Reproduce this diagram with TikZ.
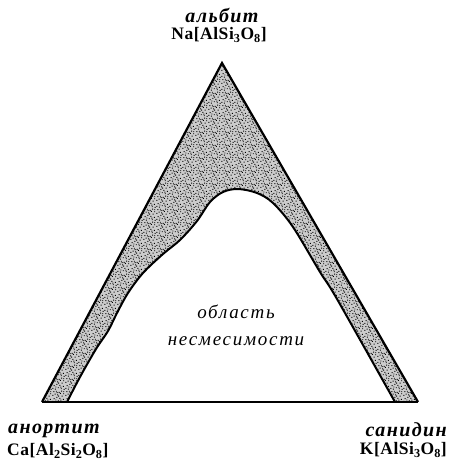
\documentclass[tikz,border=0pt]{standalone}
\usepackage{fontspec}
\setmainfont{Liberation Serif}
\usetikzlibrary{patterns}
\pgfdeclarepatternformonly{stipple}{\pgfpointorigin}{\pgfpoint{13pt}{13pt}}{\pgfpoint{13pt}{13pt}}{%
  \foreach \px/\py in {0.5/1.2,3.1/0.4,6.2/2.0,9.4/0.9,11.6/3.3,1.8/4.1,4.7/5.6,7.9/4.4,10.3/6.8,
    0.3/7.7,2.9/9.1,5.6/8.3,8.4/9.9,11.9/9.4,1.4/11.8,4.2/12.1,7.1/11.0,9.8/12.3,12.4/0.2,
    6.6/6.9,3.6/2.7,8.9/2.6,12.1/11.6,5.1/10.6}{%
    \pgfpathrectangle{\pgfpoint{\px pt}{\py pt}}{\pgfpoint{1.05pt}{1.05pt}}}%
  \pgfusepath{fill}}
\begin{document}
\begin{tikzpicture}[x=1pt,y=-1pt,
  edgeline/.style={line width=2.2pt,line join=miter},
  mineral/.style={font=\fontsize{20}{22}\selectfont\bfseries\itshape\addfontfeatures{LetterSpace=7},inner sep=0pt},
  formula/.style={font=\fontsize{17.5}{20}\selectfont\bfseries\addfontfeatures{LetterSpace=3},inner sep=0pt},
  area/.style={font=\fontsize{19}{27}\selectfont\itshape\addfontfeatures{LetterSpace=9},align=center,inner sep=0pt}]
\useasboundingbox (0,0) rectangle (449,468);
\coordinate (A) at (222,63);
\coordinate (B) at (42,402);
\coordinate (C) at (418,402);
\def\innercurve{plot[smooth,tension=0.55] coordinates {(67,402) (80,377) (96,349) (108,331) (117,313) (128,293) (143,273) (163,254) (180,240) (197,221) (210,202) (223,192) (238,189) (257,193) (273,203) (293,227) (320,272) (337,299) (395,402)}}
% band fill
\fill[black!20] (A) -- (B) -- (C) -- cycle;
\fill[pattern=stipple,pattern color=black] (A) -- (B) -- (C) -- cycle;
\fill[white] \innercurve -- cycle;
\draw[line width=2pt] \innercurve;
\draw[edgeline] (B) -- (A) -- (C);
\draw[line width=2pt] (B) -- (C);
% labels
\node[mineral] (ab) at (222,15) {альбит};
\node[formula] (abf) at (219,35) {Na[AlSi\textsubscript{3}O\textsubscript{8}]};
\node[mineral,anchor=west] (an) at (8,431) {анортит};
\node[formula,anchor=west] (anf) at (7,451) {Ca[Al\textsubscript{2}Si\textsubscript{2}O\textsubscript{8}]};
\node[mineral,anchor=east] (sa) at (447,430) {санидин};
\node[formula,anchor=east] (saf) at (447,450) {K[AlSi\textsubscript{3}O\textsubscript{8}]};
\node[area] (ar) at (236,325.5) {область\\несмесимости};
\end{tikzpicture}
\end{document}
